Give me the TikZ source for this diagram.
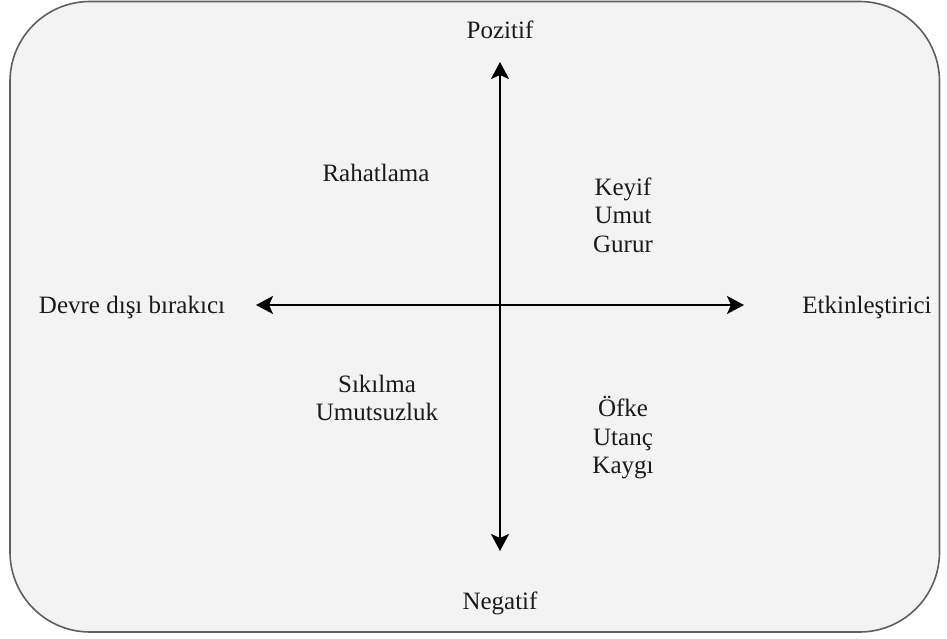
\documentclass[tikz,border=0pt]{standalone}
\usepackage{fontspec}
\setmainfont{Liberation Serif}
\usetikzlibrary{arrows.meta}
\definecolor{boxfill}{HTML}{F4F3F4}
\definecolor{boxline}{HTML}{5E5E5E}
\definecolor{txt}{HTML}{1A1A1A}
\begin{document}
\begin{tikzpicture}[x=1pt,y=-1pt,
  lbl/.style={text=txt,inner sep=0pt,align=center,font=\fontsize{25}{28.5}\selectfont},
  axis/.style={line width=2pt,arrows={Stealth[length=17pt,width=18pt,inset=4pt]-Stealth[length=17pt,width=18pt,inset=4pt]}}]
\useasboundingbox (0,0) rectangle (947,639);
\draw[fill=boxfill,draw=boxline,line width=1.6pt,rounded corners=80pt] (10,1.5) rectangle (939.5,632);
\coordinate (top) at (500,62);
\coordinate (bot) at (500,551);
\coordinate (lft) at (256,305);
\coordinate (rgt) at (744,305);
\draw[axis] (top) -- (bot);
\draw[axis] (lft) -- (rgt);
\node[lbl] (poz) at (500,30) {Pozitif};
\node[lbl] (neg) at (500,603) {Negatif};
\node[lbl] (dev) at (132,307) {Devre dışı bırakıcı};
\node[lbl] (etk) at (867,307) {Etkinleştirici};
\node[lbl] (rah) at (376,173) {Rahatlama};
\node[lbl] (key) at (623,215) {Keyif\\Umut\\Gurur};
\node[lbl] (sik) at (377,398) {Sıkılma\\Umutsuzluk};
\node[lbl] (ofk) at (623,438) {Öfke\\Utanç\\Kaygı};
\end{tikzpicture}
\end{document}
